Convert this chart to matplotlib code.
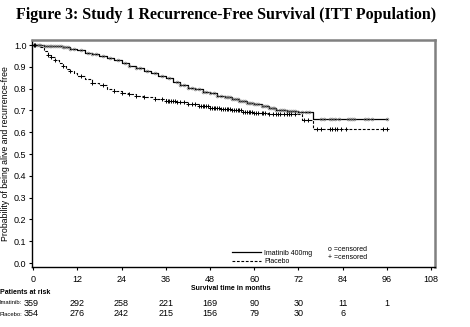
"""
Study 1 recurrence-free survival, Kaplan-Meier style chart
"""

import numpy as np
import matplotlib
matplotlib.use('Agg')
import matplotlib.pyplot as plt
import matplotlib.transforms as mtransforms

plt.rcParams['font.family'] = ['Liberation Sans', 'DejaVu Sans']

# step curves (months, probability)
imat_t = [0, 3, 5, 8, 10, 12, 14, 16, 18, 20, 22, 24, 26, 28, 30, 32, 34, 36,
          38, 40, 42, 44, 46, 48, 50, 52, 54, 56, 58, 60, 62, 64, 66, 69, 72, 76]
imat_s = [1.0, 0.997, 0.994, 0.989, 0.984, 0.978, 0.965, 0.958, 0.95, 0.942,
          0.93, 0.918, 0.905, 0.895, 0.883, 0.872, 0.86, 0.848, 0.83, 0.816,
          0.805, 0.797, 0.787, 0.778, 0.768, 0.76, 0.752, 0.742, 0.735, 0.728,
          0.72, 0.71, 0.703, 0.697, 0.694, 0.66]
plac_t = [0, 2, 3, 4, 5, 6, 7, 8, 9, 10, 11, 12, 14, 16, 18, 20, 22, 24, 26,
          28, 30, 33, 36, 39, 42, 45, 48, 51, 54, 57, 60, 64, 68, 73, 76]
plac_s = [1.0, 0.99, 0.975, 0.955, 0.945, 0.93, 0.917, 0.905, 0.89, 0.88,
          0.87, 0.86, 0.845, 0.828, 0.815, 0.8, 0.79, 0.782, 0.775, 0.768,
          0.76, 0.752, 0.745, 0.737, 0.728, 0.72, 0.712, 0.705, 0.7, 0.695,
          0.689, 0.686, 0.684, 0.656, 0.615]
last_t = 96

# censored observations (months)
imat_cens = [0.3, 0.6, 1, 1.5, 2, 3, 3.5, 4, 4.5, 5, 5.5, 6, 6.5, 7, 7.5, 8,
             8.5, 9, 9.5, 10, 11, 13, 15, 16, 17, 19, 21, 23, 25, 26, 28, 29,
             31, 33, 35, 37, 39, 40, 41, 42, 43, 44, 45, 46, 47, 48, 49, 50,
             51, 52, 52.5, 53, 53.5, 54, 54.5, 55, 55.5, 56, 56.5, 57, 57.5,
             58, 58.5, 59, 59.5, 60, 60.5, 61, 62, 62.5, 63, 63.5, 64, 64.5,
             65, 65.5, 66, 67, 67.5, 68, 69, 69.5, 70, 70.5, 71, 72, 73, 74,
             75, 78, 79, 80.5, 81, 82, 83, 85.5, 86, 86.5, 87, 90, 91, 92, 96]
plac_cens = [0.3, 0.6, 4, 5, 6, 8, 10, 13, 16, 19, 22, 24, 26, 28, 30, 33,
             35, 36, 36.5, 37, 37.5, 38, 38.5, 39, 40, 41, 42, 43, 44, 45,
             45.5, 46, 46.5, 47, 47.5, 48, 48.5, 49, 49.5, 50, 50.5, 51,
             51.5, 52, 52.5, 53, 53.5, 54, 54.5, 55, 55.5, 56, 56.5, 57,
             57.5, 58, 58.5, 59, 59.5, 60, 60.5, 61, 62, 62.5, 63, 64, 65,
             66, 66.5, 67, 68, 69, 69.5, 70, 71, 73.5, 74.5, 77, 78, 80.5,
             81, 82, 82.5, 83.5, 85, 95, 96]

# patients at risk
risk_months = [0, 12, 24, 36, 48, 60, 72, 84, 96]
imat_risk = [359, 292, 258, 221, 169, 90, 30, 11, 1]
plac_risk = [354, 276, 242, 215, 156, 79, 30, 6]


def step_value(times, surv, x):
    idx = np.searchsorted(times, x, side='right') - 1
    return np.asarray(surv)[idx]


def main():
    fig = plt.figure(figsize=(4.70, 3.27), dpi=100)
    ax = fig.add_axes([0.068, 0.1835, 0.857, 0.694])

    it = imat_t + [last_t]
    is_ = imat_s + [imat_s[-1]]
    pt = plac_t + [last_t]
    ps = plac_s + [plac_s[-1]]
    l1, = ax.plot(it, is_, drawstyle='steps-post', color='black', lw=0.9)
    l2, = ax.plot(pt, ps, drawstyle='steps-post', color='black', lw=0.8,
                  linestyle=(0, (2.5, 1.5)))

    ax.plot(imat_cens, step_value(imat_t, imat_s, imat_cens), 'o',
            ms=2.0, mfc='none', mec='#808080', mew=0.5)
    ax.plot(plac_cens, step_value(plac_t, plac_s, plac_cens), '+',
            ms=2.8, color='black', mew=0.7)

    ax.set_xlim(-0.3, 109)
    ax.set_ylim(-0.018, 1.023)
    ax.set_xticks(risk_months + [108])
    ax.set_yticks(np.arange(0, 1.01, 0.1))
    ax.set_yticklabels(['%.1f' % v for v in np.arange(0, 1.01, 0.1)])
    ax.tick_params(labelsize=6.5, length=2.5, width=0.8, pad=1.5,
                   colors='black')
    ax.tick_params(axis='x', pad=3)

    for side in ['left', 'bottom']:
        ax.spines[side].set_linewidth(1.0)
    for side in ['top', 'right']:
        ax.spines[side].set_color('#808080')
        ax.spines[side].set_linewidth(1.8)

    ax.set_ylabel('Probability of being alive and recurrence-free',
                  fontsize=6.3, labelpad=3)

    leg = ax.legend([l1, l2], ['Imatinib 400mg', 'Placebo'], loc='lower left',
                    bbox_to_anchor=(0.48, -0.02), frameon=False, fontsize=5,
                    handlelength=4.2, handletextpad=0.5, labelspacing=0.25)
    ax.text(0.735, 0.072, 'o =censored', transform=ax.transAxes, fontsize=5)
    ax.text(0.735, 0.037, '+ =censored', transform=ax.transAxes, fontsize=5)

    fig.text(0.481, 0.978, 'Figure 3: Study 1 Recurrence-Free Survival (ITT Population)',
             family='Liberation Serif', fontweight='bold', fontsize=11.5,
             ha='center', va='top')

    # risk table
    tr = mtransforms.blended_transform_factory(ax.transData, fig.transFigure)
    fig.text(0.492, 1 - 289 / 327, 'Survival time in months', fontsize=5,
             ha='center', va='center', fontweight='bold')
    fig.text(0.0, 1 - 293 / 327, 'Patients at risk', fontsize=5,
             ha='left', va='center', fontweight='bold')
    fig.text(0.0, 1 - 303 / 327, 'Imatinib:', fontsize=4.2, ha='left',
             va='center')
    fig.text(0.0, 1 - 314 / 327, 'Placebo:', fontsize=4.2, ha='left',
             va='center')
    for i, (m, n) in enumerate(zip(risk_months, imat_risk)):
        x = m - 0.6 if i == 0 else m
        ax.text(x, 1 - 303 / 327, str(n), transform=tr, fontsize=6.5,
                ha='center', va='center')
    for i, (m, n) in enumerate(zip(risk_months, plac_risk)):
        x = m - 0.6 if i == 0 else m
        ax.text(x, 1 - 314 / 327, str(n), transform=tr, fontsize=6.5,
                ha='center', va='center')

    fig.savefig('out.png', dpi=100)


if __name__ == '__main__':
    main()
